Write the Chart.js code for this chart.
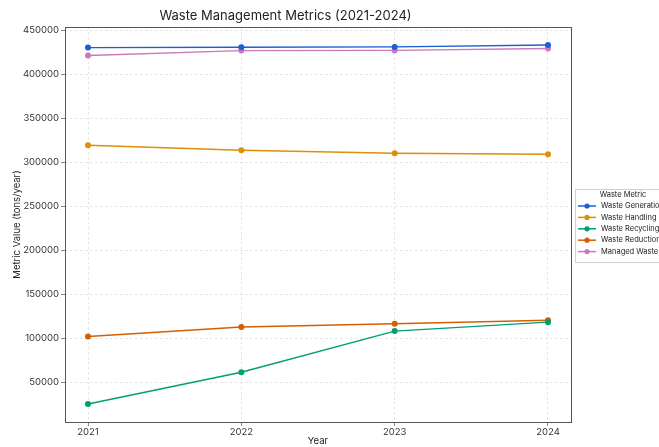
<!DOCTYPE html>
<html>
<head>
<meta charset="utf-8">
<script src="https://cdn.jsdelivr.net/npm/chart.js@4.4.1/dist/chart.umd.min.js"></script>
<style>
  html, body { margin: 0; padding: 0; background: #ffffff; overflow: hidden; }
  #wrap { width: 659px; height: 447px; }
</style>
</head>
<body>
<div id="wrap"><canvas id="c" width="659" height="447"></canvas></div>
<script>
const years = [2021, 2022, 2023, 2024];
const seriesNames = ["Waste Generation", "Waste Handling", "Waste Recycling", "Waste Reduction", "Managed Waste"];
const wasteGeneration = [430600, 431000, 431400, 433600];
const wasteHandling = [319400, 313800, 310400, 309300];
const wasteRecycling = [25000, 61200, 108000, 118200];
const wasteReduction = [101800, 112600, 116400, 120400];
const managedWaste = [421600, 427200, 427400, 429500];
const yTicks = [50000, 100000, 150000, 200000, 250000, 300000, 350000, 400000, 450000];
const xTicks = [2021, 2022, 2023, 2024];
const colors = ["#1a5fd6", "#de8f05", "#029e73", "#d55e00", "#cc78bc"];
const allValues = [wasteGeneration, wasteHandling, wasteRecycling, wasteReduction, managedWaste];

const FONT = "Inter, 'Noto Sans', 'DejaVu Sans', sans-serif";

const datasets = allValues.map((vals, i) => ({
  label: seriesNames[i],
  data: vals.map((v, j) => ({ x: years[j], y: v })),
  borderColor: colors[i],
  backgroundColor: colors[i],
  borderWidth: 1.4,
  pointRadius: 3,
  pointHoverRadius: 3,
  pointBorderWidth: 0,
  tension: 0
}));

// y range with matplotlib-like 5% margins
let dmin = Math.min(...allValues.flat()), dmax = Math.max(...allValues.flat());
const ym = (dmax - dmin) * 0.05;
const xm = (years[years.length - 1] - years[0]) * 0.05;

const framePlugin = {
  id: 'frame',
  afterDraw(chart) {
    const { ctx, chartArea: a } = chart;
    ctx.save();
    ctx.strokeStyle = '#555555';
    ctx.lineWidth = 1;
    ctx.strokeRect(Math.round(a.left) + 0.5, Math.round(a.top) + 0.5, Math.round(a.right - a.left), Math.round(a.bottom - a.top));
    // legend
    const lx = 575, ly = 189, lw = 96, lh = 73;
    ctx.fillStyle = 'rgba(255,255,255,0.9)';
    ctx.fillRect(lx, ly, lw, lh);
    ctx.strokeStyle = '#d0d0d0';
    ctx.strokeRect(lx + 0.5, ly + 0.5, lw, lh);
    ctx.fillStyle = '#222222';
    ctx.font = "7.5px " + FONT;
    ctx.textBaseline = 'middle';
    ctx.textAlign = 'center';
    ctx.fillText('Waste Metric', lx + lw / 2, ly + 6);
    ctx.textAlign = 'left';
    chart.data.datasets.forEach((ds, i) => {
      const yy = 206 + i * 11.4;
      ctx.strokeStyle = ds.borderColor;
      ctx.lineWidth = 1.5;
      ctx.beginPath();
      ctx.moveTo(578, yy);
      ctx.lineTo(596, yy);
      ctx.stroke();
      ctx.fillStyle = ds.borderColor;
      ctx.beginPath();
      ctx.arc(587, yy, 2.6, 0, Math.PI * 2);
      ctx.fill();
      ctx.fillStyle = '#222222';
      ctx.font = "7.5px " + FONT;
      ctx.fillText(ds.label, 601, yy);
    });
    ctx.restore();
  }
};

new Chart(document.getElementById('c'), {
  type: 'line',
  data: { datasets },
  options: {
    responsive: false,
    animation: false,
    devicePixelRatio: 1,
    layout: { padding: { left: 0, right: 88, top: 0, bottom: 0 } },
    plugins: {
      legend: { display: false },
      tooltip: { enabled: false },
      title: {
        display: true,
        text: 'Waste Management Metrics (2021-2024)',
        color: '#222222',
        font: { family: FONT, size: 13, weight: 'normal' },
        padding: { top: 8, bottom: 3.4 }
      }
    },
    scales: {
      x: {
        type: 'linear',
        min: years[0] - xm,
        max: years[years.length - 1] + xm,
        afterBuildTicks(s) { s.ticks = xTicks.map(v => ({ value: v })); },
        afterFit(s) { s.height = 25; },
        ticks: {
          color: '#333333',
          font: { family: FONT, size: 9.5 },
          padding: 0,
          maxRotation: 0,
          autoSkip: false,
          callback: v => String(v)
        },
        grid: {
          color: '#d9d9d9',
          lineWidth: 0.7,
          tickColor: '#555555',
          tickLength: 4,
          tickBorderDash: [],
          drawTicks: true
        },
        border: { display: false, dash: [2.5, 2.5] },
        title: {
          display: true,
          text: 'Year',
          color: '#222222',
          font: { family: FONT, size: 9.5 },
          padding: 0
        }
      },
      y: {
        type: 'linear',
        min: dmin - ym,
        max: dmax + ym,
        afterBuildTicks(s) { s.ticks = yTicks.map(v => ({ value: v })); },
        afterFit(s) { s.width = 65; },
        ticks: {
          color: '#333333',
          font: { family: FONT, size: 9.5 },
          padding: 2,
          callback: v => String(v)
        },
        grid: {
          color: '#d9d9d9',
          lineWidth: 0.7,
          tickColor: '#555555',
          tickLength: 4,
          tickBorderDash: []
        },
        border: { display: false, dash: [2.5, 2.5] },
        title: {
          display: true,
          text: 'Metric Value (tons/year)',
          color: '#222222',
          font: { family: FONT, size: 9.5 },
          padding: { top: 11, bottom: 0 }
        }
      }
    }
  },
  plugins: [framePlugin]
});
</script>
</body>
</html>
